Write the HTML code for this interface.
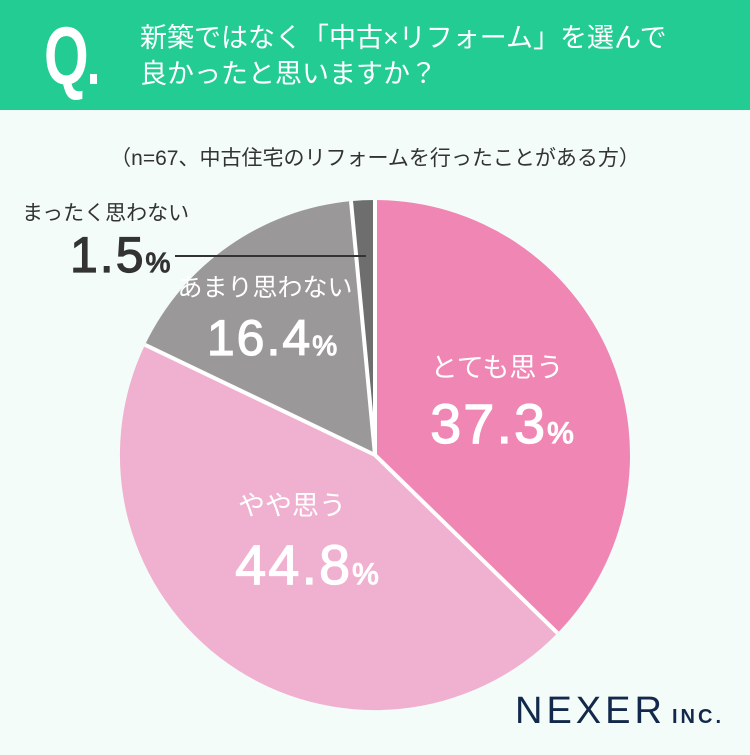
<!DOCTYPE html>
<html><head><meta charset="utf-8"><style>
body{margin:0;width:750px;height:750px;background:#f3fcf9;overflow:hidden;font-family:"Liberation Sans","Noto Sans CJK JP",sans-serif}
</style></head><body>
<svg width="750" height="750" xmlns="http://www.w3.org/2000/svg" style="font-family:'Liberation Sans','Noto Sans CJK JP',sans-serif">
<rect x="0" y="0" width="750" height="750" fill="#f3fcf9"/>
<rect x="0" y="0" width="750" height="110" fill="#22cc93"/>
<text x="44" y="84" font-size="82" font-weight="bold" fill="#fff" transform="translate(44 0) scale(0.7 1) translate(-44 0)">Q</text>
<rect x="90" y="74" width="7" height="10" fill="#fff"/>
<text x="140" y="47" font-size="27" fill="#fff">新築ではなく「中古×リフォーム」を選んで</text>
<text x="140" y="83" font-size="27" fill="#fff">良かったと思いますか？</text>
<text x="375" y="165" font-size="21" fill="#333" text-anchor="middle">（n=67、中古住宅のリフォームを行ったことがある方）</text>
<path d="M375 455 L375 200 A255 255 0 0 1 557.5 633.1 Z" fill="#f086b4"/>
<path d="M375 455 L557.5 633.1 A255 255 0 0 1 145 344.8 Z" fill="#f0b0cf"/>
<path d="M375 455 L145 344.8 A255 255 0 0 1 351 201.1 Z" fill="#9a9898"/>
<path d="M375 455 L351 201.1 A255 255 0 0 1 375 200 Z" fill="#6e6e6e"/>
<g stroke="#fff" stroke-width="4">
<line x1="375" y1="455" x2="375" y2="200"/>
<line x1="375" y1="455" x2="557.5" y2="633.1"/>
<line x1="375" y1="455" x2="145" y2="344.8"/>
<line x1="375" y1="455" x2="351" y2="201.1"/>
</g>
<g fill="#fff" text-anchor="middle">
<text x="497" y="377" font-size="27">とても思う</text>
<text x="503" y="443" font-size="56" letter-spacing="2" stroke="#fff" stroke-width="1.2">37.3<tspan font-size="30">%</tspan></text>
<text x="292" y="515" font-size="27">やや思う</text>
<text x="308" y="584" font-size="56" letter-spacing="2" stroke="#fff" stroke-width="1.2">44.8<tspan font-size="30">%</tspan></text>
<text x="265" y="296" font-size="25">あまり思わない</text>
<text x="273" y="355" font-size="50" letter-spacing="2" stroke="#fff" stroke-width="1.2">16.4<tspan font-size="28">%</tspan></text>
</g>
<text x="22" y="220" font-size="21" fill="#333">まったく思わない</text>
<text x="70" y="272" font-size="50" fill="#333" letter-spacing="2" stroke="#333" stroke-width="1.2">1.5<tspan font-size="28">%</tspan></text>
<line x1="175" y1="256" x2="366" y2="256" stroke="#333" stroke-width="2"/>
<text x="515" y="723" font-size="38" fill="#13294b" letter-spacing="4">NEXER</text>
<text x="672" y="723" font-size="20" font-weight="bold" fill="#13294b" letter-spacing="3">INC.</text>
</svg>
</body></html>
